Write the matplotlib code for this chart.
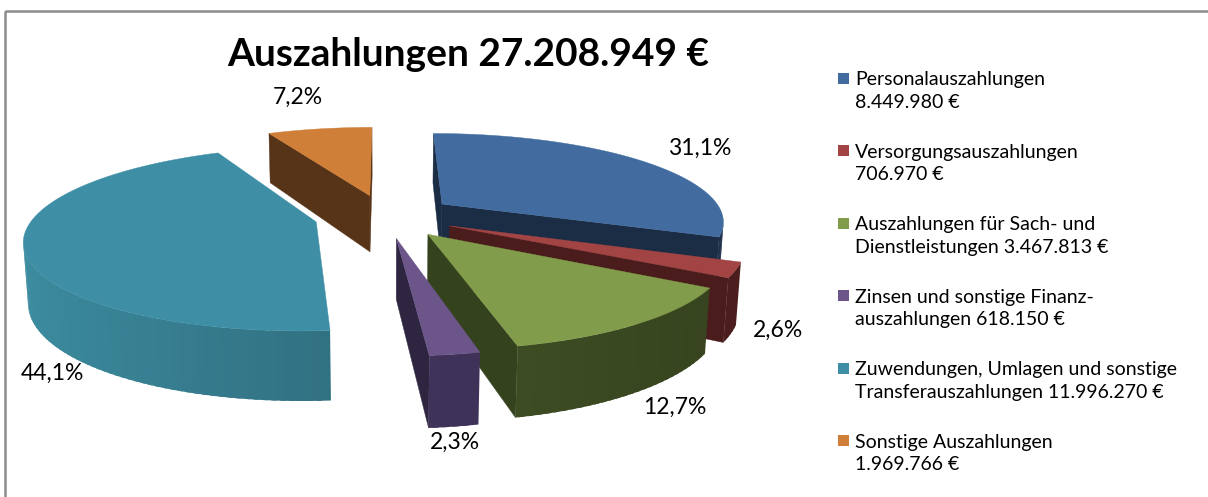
import numpy as np
import matplotlib
matplotlib.use('Agg')
import matplotlib.pyplot as plt
from matplotlib.patches import Polygon, Rectangle

# Daten
kategorien = ['Personalauszahlungen', 'Versorgungsauszahlungen',
              'Auszahlungen für Sach- und Dienstleistungen',
              'Zinsen und sonstige Finanzauszahlungen',
              'Zuwendungen, Umlagen und sonstige Transferauszahlungen',
              'Sonstige Auszahlungen']
legende = ['Personalauszahlungen\n8.449.980 €',
           'Versorgungsauszahlungen\n706.970 €',
           'Auszahlungen für Sach- und\nDienstleistungen 3.467.813 €',
           'Zinsen und sonstige Finanz-\nauszahlungen 618.150 €',
           'Zuwendungen, Umlagen und sonstige\nTransferauszahlungen 11.996.270 €',
           'Sonstige Auszahlungen\n1.969.766 €']
werte = [8449980, 706970, 3467813, 618150, 11996270, 1969766]
titel = 'Auszahlungen 27.208.949 €'

# Farben: Oberseite, Schnittfläche, Mantel hell/dunkel
farben_oben = ['#426ca0', '#a34444', '#819d4b', '#6b5589', '#3e8fa6', '#d07f38']
farben_seite = ['#1b2c45', '#4a1c1c', '#35421e', '#2e2540', '#2a5f6d', '#573417']
farben_mantel = [('#2c4a70', '#1b2c45'), ('#6a2a2a', '#4a1c1c'), ('#4a5c2a', '#35421e'),
                 ('#463863', '#3a2e52'), ('#3d8da1', '#275a68'), ('#8a5424', '#573417')]

# Perspektive (3D-Torte)
elev = np.radians(18)
dist = 5.3
brennweite = 1495.0
hoehe = 0.22
explode = 0.25
cx, cy = 385, 216

cam = np.array([0.0, -dist * np.cos(elev), dist * np.sin(elev)])
fwd = np.array([0.0, np.cos(elev), -np.sin(elev)])
up = np.array([0.0, np.sin(elev), np.cos(elev)])


def proj(p):
    rel = np.asarray(p) - cam
    d = rel @ fwd
    return cx + brennweite * rel[0] / d, cy - brennweite * (rel @ up) / d


def sichtbar(p, n):
    return (cam - np.asarray(p)) @ np.asarray(n) > 0


fig = plt.figure(figsize=(12.08, 4.97), dpi=100)
ax = fig.add_axes([0, 0, 1, 1])
ax.set_xlim(0, 1208)
ax.set_ylim(497, 0)
ax.axis('off')

anteile = np.array(werte) / sum(werte)
grenzen = np.concatenate([[0], np.cumsum(anteile)]) * 2 * np.pi

# Reihenfolge nach Tiefe (hinten zuerst)
stuecke = []
for i in range(len(werte)):
    a0, a1 = grenzen[i], grenzen[i + 1]
    am = (a0 + a1) / 2
    off = explode * np.array([np.sin(am), np.cos(am), 0.0])
    tiefe = (off + 0.5 * np.array([np.sin(am), np.cos(am), 0])) - cam
    stuecke.append((-(tiefe @ fwd), i, a0, a1, off))
stuecke.sort()

for _, i, a0, a1, off in stuecke:
    n = max(int(np.degrees(a1 - a0) / 1.5), 2)
    ang = np.linspace(a0, a1, n + 1)
    schritt = ang[1] - ang[0]
    rand = [off + np.array([np.sin(t), np.cos(t), 0.0]) for t in ang]
    unten = np.array([0, 0, -hoehe])
    mitte = off

    # Schnittflächen
    for t, sgn in ((a0, -1), (a1, 1)):
        r = off + np.array([np.sin(t), np.cos(t), 0.0])
        nrm = sgn * np.array([np.cos(t), -np.sin(t), 0.0])
        pm = (mitte + r) / 2 + unten / 2
        if sichtbar(pm, nrm):
            pts = [proj(mitte), proj(r), proj(r + unten), proj(mitte + unten)]
            ax.add_patch(Polygon(pts, closed=True, facecolor=farben_seite[i],
                                 edgecolor=farben_seite[i], lw=0.3))

    # Mantel (überlappende Streifen, Licht von links)
    hell = np.array(matplotlib.colors.to_rgb(farben_mantel[i][0]))
    dunkel = np.array(matplotlib.colors.to_rgb(farben_mantel[i][1]))
    for k in range(n):
        tm = (ang[k] + ang[k + 1]) / 2
        nrm = np.array([np.sin(tm), np.cos(tm), 0.0])
        pm = (rand[k] + rand[k + 1]) / 2 + unten / 2
        if not sichtbar(pm, nrm):
            continue
        w = np.clip((np.sin(tm) + 1) / 2, 0, 1)
        col = hell * (1 - w) + dunkel * w
        t_end = min(ang[k + 1] + 0.6 * schritt, a1)
        r2 = off + np.array([np.sin(t_end), np.cos(t_end), 0.0])
        pts = [proj(rand[k]), proj(r2), proj(r2 + unten), proj(rand[k] + unten)]
        ax.add_patch(Polygon(pts, closed=True, facecolor=col, edgecolor='none', lw=0))

    # Oberseite
    pts = [proj(mitte)] + [proj(p) for p in rand]
    ax.add_patch(Polygon(pts, closed=True, facecolor=farben_oben[i],
                         edgecolor=farben_oben[i], lw=0.3))

# Prozentbeschriftungen
label_pos = [(700, 148), (778, 330), (675, 407), (455, 442), (52, 373), (298, 97)]
for i, (x, y) in enumerate(label_pos):
    txt = f'{anteile[i] * 100:.1f}%'.replace('.', ',')
    ax.text(x, y, txt, fontsize=16.5, family='Lato', ha='center', va='center', color='black')

ax.text(468, 55, titel, fontsize=28, fontweight='bold', family='Lato',
        ha='center', va='center', color='black')

# Legende
for i, txt in enumerate(legende):
    y = 78 + i * 72.5
    ax.add_patch(Rectangle((838, y - 5.5), 11, 11, facecolor=farben_oben[i], edgecolor='none'))
    ax.text(855, y + 13, txt, fontsize=14, family='Lato', ha='left', va='center',
            linespacing=1.4, color='black')

# Rahmen
ax.add_patch(Rectangle((4.5, 10.5), 1230, 520, facecolor='none', edgecolor='#8c8c8c', lw=1.8))

fig.savefig('out.png', dpi=100)
